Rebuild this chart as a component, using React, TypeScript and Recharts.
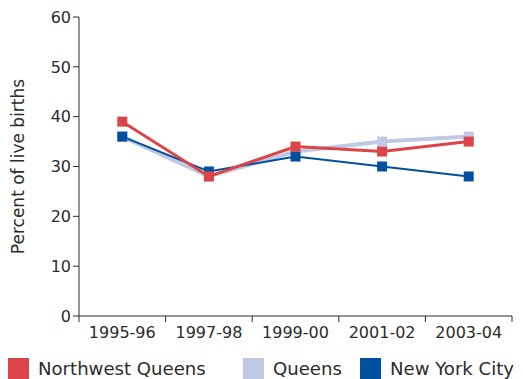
import React from 'react';
import { LineChart, Line, XAxis, YAxis, Legend } from 'recharts';

const periods = ['1995-96', '1997-98', '1999-00', '2001-02', '2003-04'];
const northwestQueens = [39, 28, 34, 33, 35];
const queens = [36, 28, 33, 35, 36];
const newYorkCity = [36, 29, 32, 30, 28];
const yTicks = [0, 10, 20, 30, 40, 50, 60];

const FONT = '"DejaVu Sans", sans-serif';
const TEXT = '#2b2b2b';

const series = [
  { key: 'queens', name: 'Queens', color: '#c0c9e3', width: 4 },
  { key: 'nyc', name: 'New York City', color: '#00509f', width: 2 },
  { key: 'nwq', name: 'Northwest Queens', color: '#dc4449', width: 3 },
];
const legendOrder = ['nwq', 'queens', 'nyc'];
const legendX = [0, 235, 352];

// x sits in the middle of each band, ticks go on the band edges
const data = periods.map((p, i) => ({
  x: i + 0.5,
  period: p,
  nwq: northwestQueens[i],
  queens: queens[i],
  nyc: newYorkCity[i],
}));

const CHART_W = 515;
const CHART_H = 371;
const Y_W = 71;
const RIGHT = 11;
const BAND = (CHART_W - Y_W - RIGHT) / periods.length;

const PeriodTick = (props: any) => {
  const { x, y, payload } = props;
  const label = periods[payload.value];
  if (!label) return null;
  return (
    <text x={x + BAND / 2} y={y + 14} textAnchor="middle" fontSize={16} fontFamily={FONT} fill={TEXT}>
      {label}
    </text>
  );
};

const SquareDot = (props: any) => {
  const { cx, cy, stroke } = props;
  if (cx == null || cy == null) return null;
  return <rect x={cx - 5} y={cy - 5} width={10} height={10} fill={stroke} />;
};

const LegendBox = () => (
  <div style={{ position: 'relative', height: 33, width: CHART_W }}>
    {legendOrder.map((k, i) => {
      const s = series.find((d) => d.key === k)!;
      return (
        <div
          key={k}
          style={{
            position: 'absolute',
            left: legendX[i],
            top: 12,
            display: 'flex',
            alignItems: 'center',
            fontFamily: FONT,
            fontSize: 18.1,
            color: TEXT,
            whiteSpace: 'nowrap',
          }}
        >
          <span style={{ display: 'inline-block', width: 21, height: 21, background: s.color, marginRight: 9 }} />
          {s.name}
        </div>
      );
    })}
  </div>
);

export default function App() {
  return (
    <LineChart width={CHART_W} height={CHART_H} data={data} margin={{ top: 9, right: RIGHT, left: 0, bottom: 0 }}>
      <XAxis
        type="number"
        dataKey="x"
        domain={[0, periods.length]}
        ticks={[0, 1, 2, 3, 4, 5]}
        height={30}
        tick={<PeriodTick />}
        tickSize={6}
        stroke="#2b2b2b"
        axisLine={{ stroke: '#2b2b2b' }}
        tickLine={{ stroke: '#2b2b2b' }}
      />
      <YAxis
        domain={[0, 60]}
        ticks={yTicks}
        width={Y_W}
        tickSize={6}
        stroke="#2b2b2b"
        tick={{ fontSize: 16, fontFamily: FONT, fill: TEXT }}
        label={{
          value: 'Percent of live births',
          angle: -90,
          position: 'insideLeft',
          offset: 0,
          dx: 10,
          style: { textAnchor: 'middle', fontSize: 17, fontFamily: FONT, fill: TEXT },
        }}
      />
      <Legend verticalAlign="bottom" align="left" height={33} content={<LegendBox />} />
      {series.map((s) => (
        <Line
          key={s.key}
          dataKey={s.key}
          name={s.name}
          stroke={s.color}
          strokeWidth={s.width}
          dot={<SquareDot />}
          activeDot={false}
          isAnimationActive={false}
        />
      ))}
    </LineChart>
  );
}
